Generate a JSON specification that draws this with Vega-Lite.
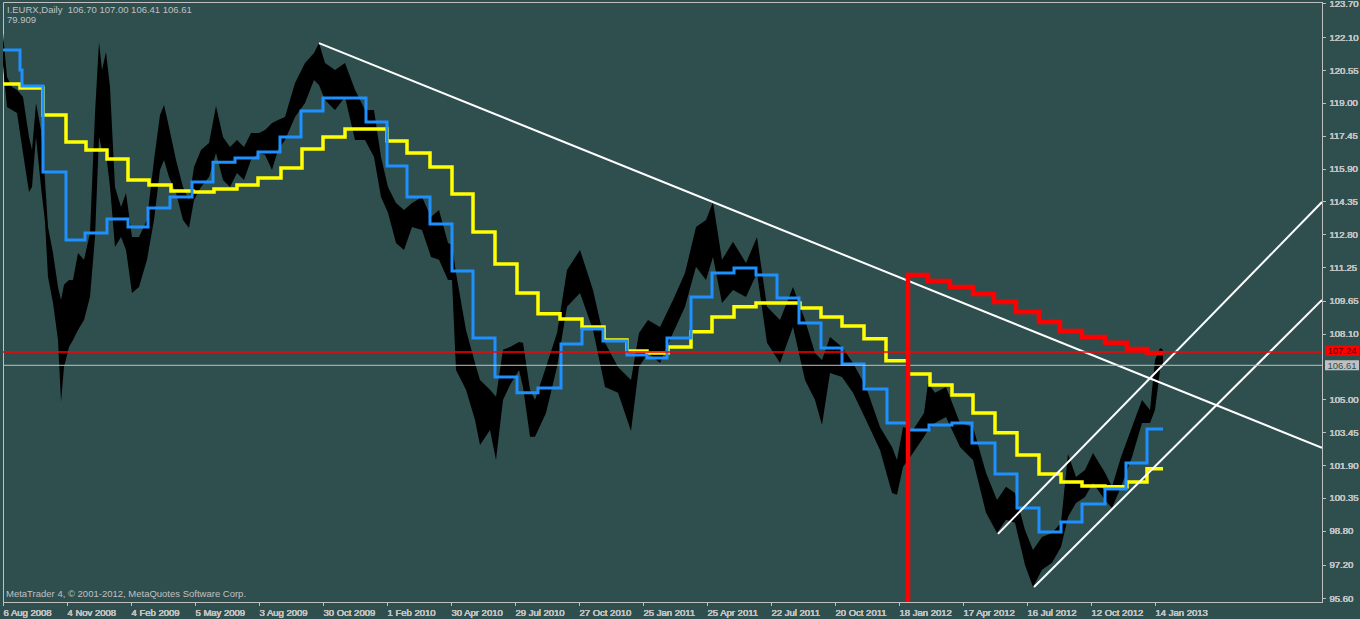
{
  "$schema": "https://vega.github.io/schema/vega-lite/v6.json",
  "width": 1319,
  "height": 600,
  "autosize": {"type": "none"},
  "padding": {"left": 3, "top": 2, "right": 38, "bottom": 17},
  "background": "#2F4F4F",
  "config": {
    "view": {"stroke": "#C0C0C0", "strokeWidth": 1, "fill": "#2F4F4F"},
    "font": "Liberation Sans",
    "axis": {"labelOverlap": false, "labelBound": false, "labelFlush": false, "grid": false, "domainColor": "#C0C0C0", "tickColor": "#C0C0C0", "tickSize": 3, "labelColor": "#C0C0C0", "labelFont": "Liberation Sans", "labelFontSize": 9.5, "labelSeparation": -50},
    "axisX": {"labelAlign": "left", "labelBaseline": "top", "labelPadding": 2, "labelDx": -1.5},
    "axisY": {"labelPadding": 4}
  },
  "data": {"values": [{}]},
  "datasets": {
    "price": [
      {"bar":0,"high":122.31,"low":120.80},{"bar":4,"high":120.23,"low":118.81},{"bar":9,"high":119.76,"low":118.67},{"bar":14,"high":119.62,"low":118.53},{"bar":20,"high":119.28,"low":116.64},{"bar":26,"high":117.39,"low":114.80},{"bar":29,"high":116.78,"low":115.03},{"bar":33,"high":119.00,"low":117.39},{"bar":38,"high":117.73,"low":115.03},{"bar":42,"high":115.36,"low":113.38},{"bar":45,"high":113.14,"low":110.78},{"bar":50,"high":111.92,"low":109.55},{"bar":55,"high":110.31,"low":107.81},{"bar":58,"high":109.70,"low":104.88},{"bar":61,"high":110.41,"low":106.53},{"bar":66,"high":110.64,"low":107.48},{"bar":70,"high":110.64,"low":107.81},{"bar":75,"high":111.92,"low":108.28},{"bar":81,"high":111.59,"low":108.75},{"bar":87,"high":112.86,"low":109.84},{"bar":92,"high":118.53,"low":112.67},{"bar":96,"high":121.88,"low":117.39},{"bar":99,"high":120.56,"low":116.78},{"bar":103,"high":121.41,"low":116.64},{"bar":107,"high":119.76,"low":115.03},{"bar":112,"high":115.03,"low":112.20},{"bar":118,"high":114.09,"low":112.67},{"bar":123,"high":114.75,"low":112.06},{"bar":129,"high":112.67,"low":110.03},{"bar":136,"high":112.67,"low":110.31},{"bar":144,"high":113.47,"low":111.59},{"bar":151,"high":116.31,"low":113.47},{"bar":157,"high":118.43,"low":115.84},{"bar":161,"high":118.91,"low":116.31},{"bar":166,"high":117.87,"low":115.51},{"bar":173,"high":116.31,"low":114.75},{"bar":180,"high":115.03,"low":113.47},{"bar":186,"high":114.42,"low":113.10},{"bar":191,"high":115.98,"low":114.42},{"bar":198,"high":116.78,"low":115.03},{"bar":206,"high":117.11,"low":115.51},{"bar":213,"high":118.86,"low":116.64},{"bar":220,"high":117.39,"low":115.36},{"bar":227,"high":116.92,"low":115.03},{"bar":234,"high":117.25,"low":115.69},{"bar":241,"high":116.92,"low":115.36},{"bar":248,"high":117.58,"low":116.31},{"bar":256,"high":117.58,"low":116.64},{"bar":262,"high":117.73,"low":116.55},{"bar":269,"high":118.06,"low":115.84},{"bar":275,"high":118.20,"low":116.78},{"bar":282,"high":118.34,"low":117.25},{"bar":292,"high":119.95,"low":118.34},{"bar":302,"high":120.89,"low":119.00},{"bar":311,"high":121.36,"low":120.09},{"bar":316,"high":121.83,"low":119.85},{"bar":322,"high":120.89,"low":119.14},{"bar":332,"high":120.56,"low":118.67},{"bar":342,"high":120.89,"low":119.28},{"bar":352,"high":119.62,"low":117.25},{"bar":362,"high":118.67,"low":117.25},{"bar":371,"high":118.67,"low":116.45},{"bar":378,"high":116.45,"low":114.56},{"bar":385,"high":115.03,"low":113.81},{"bar":393,"high":114.28,"low":112.39},{"bar":401,"high":113.95,"low":112.06},{"bar":409,"high":114.28,"low":113.14},{"bar":419,"high":114.56,"low":113.00},{"bar":428,"high":113.62,"low":111.73},{"bar":436,"high":113.95,"low":111.59},{"bar":445,"high":112.39,"low":110.64},{"bar":449,"high":112.30,"low":110.64},{"bar":453,"high":110.97,"low":106.39},{"bar":463,"high":108.28,"low":105.45},{"bar":472,"high":106.72,"low":104.03},{"bar":477,"high":105.92,"low":102.85},{"bar":487,"high":105.45,"low":103.56},{"bar":493,"high":105.12,"low":102.14},{"bar":500,"high":107.34,"low":104.97},{"bar":507,"high":107.48,"low":105.68},{"bar":516,"high":107.71,"low":106.39},{"bar":520,"high":107.67,"low":105.59},{"bar":527,"high":105.45,"low":103.23},{"bar":532,"high":104.97,"low":103.23},{"bar":543,"high":106.53,"low":104.36},{"bar":554,"high":108.14,"low":106.53},{"bar":564,"high":111.11,"low":109.37},{"bar":577,"high":112.06,"low":110.03},{"bar":590,"high":110.17,"low":108.28},{"bar":602,"high":107.67,"low":105.59},{"bar":615,"high":106.53,"low":105.31},{"bar":628,"high":105.92,"low":103.51},{"bar":636,"high":108.14,"low":106.53},{"bar":645,"high":108.75,"low":107.19},{"bar":657,"high":108.42,"low":106.72},{"bar":670,"high":109.70,"low":108.14},{"bar":682,"high":110.97,"low":109.37},{"bar":693,"high":113.14,"low":111.26},{"bar":703,"high":113.47,"low":110.64},{"bar":710,"high":114.32,"low":111.73},{"bar":719,"high":111.59,"low":109.55},{"bar":730,"high":112.44,"low":110.17},{"bar":743,"high":111.44,"low":109.84},{"bar":754,"high":112.67,"low":110.97},{"bar":764,"high":109.37,"low":107.67},{"bar":777,"high":108.75,"low":106.72},{"bar":790,"high":110.31,"low":108.42},{"bar":802,"high":108.75,"low":105.92},{"bar":812,"high":107.19,"low":104.97},{"bar":819,"high":106.86,"low":103.79},{"bar":827,"high":107.95,"low":106.25},{"bar":839,"high":107.48,"low":106.06},{"bar":850,"high":106.72,"low":105.31},{"bar":863,"high":105.59,"low":104.03},{"bar":877,"high":103.70,"low":102.61},{"bar":889,"high":102.75,"low":100.58},{"bar":894,"high":102.14,"low":100.49},{"bar":900,"high":103.70,"low":101.81},{"bar":910,"high":103.56,"low":102.47},{"bar":921,"high":104.36,"low":103.23},{"bar":925,"high":105.78,"low":103.56},{"bar":932,"high":105.31,"low":103.89},{"bar":943,"high":105.59,"low":104.17},{"bar":957,"high":103.89,"low":102.75},{"bar":970,"high":103.70,"low":102.14},{"bar":983,"high":101.53,"low":99.64},{"bar":994,"high":100.25,"low":98.69},{"bar":1003,"high":100.87,"low":99.31},{"bar":1012,"high":100.58,"low":99.17},{"bar":1022,"high":98.83,"low":97.18},{"bar":1030,"high":97.89,"low":96.14},{"bar":1039,"high":98.50,"low":96.95},{"bar":1049,"high":98.69,"low":97.28},{"bar":1058,"high":99.17,"low":98.03},{"bar":1065,"high":102.42,"low":99.45},{"bar":1073,"high":101.34,"low":100.11},{"bar":1082,"high":101.67,"low":100.39},{"bar":1090,"high":102.47,"low":101.05},{"bar":1102,"high":101.53,"low":100.25},{"bar":1109,"high":100.87,"low":99.87},{"bar":1118,"high":102.28,"low":100.87},{"bar":1129,"high":103.70,"low":102.28},{"bar":1139,"high":104.97,"low":103.89},{"bar":1147,"high":104.50,"low":103.89},{"bar":1152,"high":106.86,"low":104.50},{"bar":1157,"high":107.43,"low":106.39},{"bar":1160,"high":107.34,"low":106.62}
    ],
    "blue": [
      {"bar":0,"price":121.50},{"bar":17,"price":120.56},{"bar":19,"price":119.80},{"bar":40,"price":115.74},{"bar":63,"price":112.53},{"bar":82,"price":112.86},{"bar":104,"price":113.52},{"bar":125,"price":113.14},{"bar":145,"price":114.04},{"bar":167,"price":114.56},{"bar":189,"price":115.27},{"bar":210,"price":116.20},{"bar":232,"price":116.40},{"bar":255,"price":116.69},{"bar":277,"price":117.39},{"bar":298,"price":118.62},{"bar":320,"price":119.24},{"bar":363,"price":118.10},{"bar":384,"price":116.02},{"bar":404,"price":114.56},{"bar":427,"price":113.29},{"bar":449,"price":111.07},{"bar":470,"price":107.90},{"bar":492,"price":106.06},{"bar":514,"price":105.31},{"bar":535,"price":105.54},{"bar":558,"price":107.62},{"bar":579,"price":108.33},{"bar":600,"price":107.76},{"bar":624,"price":107.10},{"bar":644,"price":106.96},{"bar":664,"price":107.90},{"bar":688,"price":109.84},{"bar":709,"price":110.97},{"bar":731,"price":111.21},{"bar":753,"price":110.88},{"bar":774,"price":109.79},{"bar":796,"price":108.61},{"bar":818,"price":107.43},{"bar":839,"price":106.67},{"bar":861,"price":105.49},{"bar":884,"price":103.89},{"bar":905,"price":103.56},{"bar":926,"price":103.79},{"bar":949,"price":103.89},{"bar":969,"price":102.94},{"bar":992,"price":101.48},{"bar":1014,"price":99.87},{"bar":1036,"price":98.74},{"bar":1058,"price":99.21},{"bar":1079,"price":100.06},{"bar":1102,"price":100.77},{"bar":1123,"price":102.00},{"bar":1144,"price":103.60},{"bar":1160,"price":103.60}
    ],
    "yellow": [
      {"bar":0,"price":119.90},{"bar":17,"price":119.71},{"bar":40,"price":118.43},{"bar":63,"price":117.16},{"bar":83,"price":116.78},{"bar":104,"price":116.36},{"bar":125,"price":115.36},{"bar":146,"price":115.13},{"bar":168,"price":114.84},{"bar":190,"price":114.80},{"bar":211,"price":114.94},{"bar":234,"price":115.13},{"bar":255,"price":115.46},{"bar":278,"price":115.93},{"bar":299,"price":116.83},{"bar":320,"price":117.39},{"bar":342,"price":117.77},{"bar":384,"price":117.21},{"bar":404,"price":116.64},{"bar":427,"price":115.98},{"bar":449,"price":114.70},{"bar":470,"price":112.91},{"bar":492,"price":111.40},{"bar":514,"price":110.03},{"bar":535,"price":109.04},{"bar":557,"price":108.80},{"bar":579,"price":108.42},{"bar":601,"price":107.81},{"bar":624,"price":107.29},{"bar":644,"price":107.19},{"bar":665,"price":107.48},{"bar":688,"price":108.19},{"bar":709,"price":108.89},{"bar":731,"price":109.37},{"bar":753,"price":109.55},{"bar":797,"price":109.32},{"bar":818,"price":108.89},{"bar":839,"price":108.47},{"bar":861,"price":107.86},{"bar":883,"price":106.82},{"bar":905,"price":106.20},{"bar":927,"price":105.68},{"bar":949,"price":105.21},{"bar":970,"price":104.36},{"bar":992,"price":103.42},{"bar":1014,"price":102.37},{"bar":1036,"price":101.48},{"bar":1058,"price":101.10},{"bar":1079,"price":100.91},{"bar":1102,"price":100.87},{"bar":1124,"price":101.10},{"bar":1144,"price":101.72},{"bar":1160,"price":101.72}
    ],
    "red": [
      {"bar":905,"price":110.88},{"bar":925,"price":110.59},{"bar":947,"price":110.31},{"bar":970,"price":109.98},{"bar":991,"price":109.60},{"bar":1013,"price":109.13},{"bar":1036,"price":108.66},{"bar":1057,"price":108.23},{"bar":1079,"price":107.95},{"bar":1102,"price":107.67},{"bar":1124,"price":107.38},{"bar":1144,"price":107.19},{"bar":1160,"price":107.19}
    ],
    "trend": [
      {"line":"A","bar":316,"price":121.83},{"line":"A","bar":1319,"price":102.71},
      {"line":"B","bar":995,"price":98.65},{"line":"B","bar":1319,"price":114.32},
      {"line":"C","bar":1031,"price":96.14},{"line":"C","bar":1319,"price":109.70}
    ]
  },
  "layer": [
    {
      "data": {"name": "price"},
      "mark": {"type": "area", "color": "#000000", "clip": true},
      "encoding": {
        "x": {"field": "bar", "type": "quantitative", "title": null, "scale": {"domain": [0, 1319], "nice": false, "zero": false},
          "axis": {"orient": "bottom", "title": null, "labelOverlap": false, "values": [0,64,128,192,256,320,384,448,512,576,640,704,768,832,896,960,1024,1088,1152],
            "labelExpr": "['6 Aug 2008','4 Nov 2008','4 Feb 2009','5 May 2009','3 Aug 2009','30 Oct 2009','1 Feb 2010','30 Apr 2010','29 Jul 2010','27 Oct 2010','25 Jan 2011','25 Apr 2011','22 Jul 2011','20 Oct 2011','18 Jan 2012','17 Apr 2012','16 Jul 2012','12 Oct 2012','14 Jan 2013'][round(datum.value/64)]"}},
        "y": {"field": "high", "type": "quantitative", "title": null, "scale": {"domain": [95.43, 123.77], "nice": false, "zero": false},
          "axis": {"orient": "right", "title": null, "labelOverlap": false, "format": ".2f", "values": [95.6,97.2,98.8,100.35,101.9,103.45,105.0,108.1,109.65,111.25,112.8,114.35,115.9,117.45,119.0,120.55,122.1,123.7]}},
        "y2": {"field": "low"}
      }
    },
    {
      "data": {"name": "yellow"},
      "mark": {"type": "line", "color": "#FFFF00", "strokeWidth": 3.5, "interpolate": "step-after", "clip": true},
      "encoding": {
        "x": {"field": "bar", "type": "quantitative", "title": null, "scale": {"domain": [0, 1319], "nice": false, "zero": false},
          "axis": {"orient": "bottom", "title": null, "labelOverlap": false, "values": [0,64,128,192,256,320,384,448,512,576,640,704,768,832,896,960,1024,1088,1152],
            "labelExpr": "['6 Aug 2008','4 Nov 2008','4 Feb 2009','5 May 2009','3 Aug 2009','30 Oct 2009','1 Feb 2010','30 Apr 2010','29 Jul 2010','27 Oct 2010','25 Jan 2011','25 Apr 2011','22 Jul 2011','20 Oct 2011','18 Jan 2012','17 Apr 2012','16 Jul 2012','12 Oct 2012','14 Jan 2013'][round(datum.value/64)]"}},
        "y": {"field": "price", "type": "quantitative", "title": null, "scale": {"domain": [95.43, 123.77], "nice": false, "zero": false},
          "axis": {"orient": "right", "title": null, "labelOverlap": false, "format": ".2f", "values": [95.6,97.2,98.8,100.35,101.9,103.45,105.0,108.1,109.65,111.25,112.8,114.35,115.9,117.45,119.0,120.55,122.1,123.7]}}
      }
    },
    {
      "data": {"name": "blue"},
      "mark": {"type": "line", "color": "#1E90FF", "strokeWidth": 3, "interpolate": "step-after", "clip": true},
      "encoding": {
        "x": {"field": "bar", "type": "quantitative", "title": null, "scale": {"domain": [0, 1319], "nice": false, "zero": false},
          "axis": {"orient": "bottom", "title": null, "labelOverlap": false, "values": [0,64,128,192,256,320,384,448,512,576,640,704,768,832,896,960,1024,1088,1152],
            "labelExpr": "['6 Aug 2008','4 Nov 2008','4 Feb 2009','5 May 2009','3 Aug 2009','30 Oct 2009','1 Feb 2010','30 Apr 2010','29 Jul 2010','27 Oct 2010','25 Jan 2011','25 Apr 2011','22 Jul 2011','20 Oct 2011','18 Jan 2012','17 Apr 2012','16 Jul 2012','12 Oct 2012','14 Jan 2013'][round(datum.value/64)]"}},
        "y": {"field": "price", "type": "quantitative", "title": null, "scale": {"domain": [95.43, 123.77], "nice": false, "zero": false},
          "axis": {"orient": "right", "title": null, "labelOverlap": false, "format": ".2f", "values": [95.6,97.2,98.8,100.35,101.9,103.45,105.0,108.1,109.65,111.25,112.8,114.35,115.9,117.45,119.0,120.55,122.1,123.7]}}
      }
    },
    {
      "data": {"name": "red"},
      "mark": {"type": "line", "color": "#FF0000", "strokeWidth": 4.5, "interpolate": "step-after", "clip": true},
      "encoding": {
        "x": {"field": "bar", "type": "quantitative", "title": null, "scale": {"domain": [0, 1319], "nice": false, "zero": false},
          "axis": {"orient": "bottom", "title": null, "labelOverlap": false, "values": [0,64,128,192,256,320,384,448,512,576,640,704,768,832,896,960,1024,1088,1152],
            "labelExpr": "['6 Aug 2008','4 Nov 2008','4 Feb 2009','5 May 2009','3 Aug 2009','30 Oct 2009','1 Feb 2010','30 Apr 2010','29 Jul 2010','27 Oct 2010','25 Jan 2011','25 Apr 2011','22 Jul 2011','20 Oct 2011','18 Jan 2012','17 Apr 2012','16 Jul 2012','12 Oct 2012','14 Jan 2013'][round(datum.value/64)]"}},
        "y": {"field": "price", "type": "quantitative", "title": null, "scale": {"domain": [95.43, 123.77], "nice": false, "zero": false},
          "axis": {"orient": "right", "title": null, "labelOverlap": false, "format": ".2f", "values": [95.6,97.2,98.8,100.35,101.9,103.45,105.0,108.1,109.65,111.25,112.8,114.35,115.9,117.45,119.0,120.55,122.1,123.7]}}
      }
    },
    {
      "data": {"name": "trend"},
      "mark": {"type": "line", "color": "#FFFFFF", "strokeWidth": 2, "clip": true},
      "encoding": {
        "x": {"field": "bar", "type": "quantitative", "title": null, "scale": {"domain": [0, 1319], "nice": false, "zero": false},
          "axis": {"orient": "bottom", "title": null, "labelOverlap": false, "values": [0,64,128,192,256,320,384,448,512,576,640,704,768,832,896,960,1024,1088,1152],
            "labelExpr": "['6 Aug 2008','4 Nov 2008','4 Feb 2009','5 May 2009','3 Aug 2009','30 Oct 2009','1 Feb 2010','30 Apr 2010','29 Jul 2010','27 Oct 2010','25 Jan 2011','25 Apr 2011','22 Jul 2011','20 Oct 2011','18 Jan 2012','17 Apr 2012','16 Jul 2012','12 Oct 2012','14 Jan 2013'][round(datum.value/64)]"}},
        "y": {"field": "price", "type": "quantitative", "title": null, "scale": {"domain": [95.43, 123.77], "nice": false, "zero": false},
          "axis": {"orient": "right", "title": null, "labelOverlap": false, "format": ".2f", "values": [95.6,97.2,98.8,100.35,101.9,103.45,105.0,108.1,109.65,111.25,112.8,114.35,115.9,117.45,119.0,120.55,122.1,123.7]}},
        "detail": {"field": "line"}
      }
    },
    {
      "layer": [
        {
          "mark": {"type": "rule", "color": "#C0C0C0", "strokeWidth": 1},
          "encoding": {"y": {"datum": 106.61}}
        },
        {
          "mark": {"type": "rule", "color": "#FF0000", "strokeWidth": 1.5},
          "encoding": {"y": {"datum": 107.24}}
        },
        {
          "mark": {"type": "rule", "color": "#FF0000", "strokeWidth": 4.5, "clip": true},
          "encoding": {"x": {"datum": 905}, "y": {"datum": 110.98}, "y2": {"datum": 95.43}}
        },
        {
          "mark": {"type": "rect", "color": "#FF0000"},
          "encoding": {"x": {"datum": 1322}, "x2": {"datum": 1356}, "y": {"datum": 107.54}, "y2": {"datum": 107.05}}
        },
        {
          "mark": {"type": "text", "color": "#600000", "font": "Liberation Sans", "fontSize": 9.5, "align": "center", "baseline": "middle"},
          "encoding": {"x": {"datum": 1339}, "y": {"datum": 107.28}, "text": {"value": "107.24"}}
        },
        {
          "mark": {"type": "rect", "color": "#C0C0C0"},
          "encoding": {"x": {"datum": 1322}, "x2": {"datum": 1356}, "y": {"datum": 106.85}, "y2": {"datum": 106.38}}
        },
        {
          "mark": {"type": "text", "color": "#2F4F4F", "font": "Liberation Sans", "fontSize": 9.5, "align": "center", "baseline": "middle"},
          "encoding": {"x": {"datum": 1339}, "y": {"datum": 106.6}, "text": {"value": "106.61"}}
        },
        {
          "mark": {"type": "text", "color": "#C0C0C0", "font": "Liberation Sans", "fontSize": 9.5, "align": "left", "baseline": "middle"},
          "encoding": {"x": {"datum": 4}, "y": {"datum": 123.37}, "text": {"value": "I.EURX,Daily\u00a0\u00a0106.70 107.00 106.41 106.61"}}
        },
        {
          "mark": {"type": "text", "color": "#C0C0C0", "font": "Liberation Sans", "fontSize": 9.5, "align": "left", "baseline": "middle"},
          "encoding": {"x": {"datum": 4}, "y": {"datum": 122.9}, "text": {"value": "79.909"}}
        },
        {
          "mark": {"type": "text", "color": "#C0C0C0", "font": "Liberation Sans", "fontSize": 9.5, "align": "left", "baseline": "middle"},
          "encoding": {"x": {"datum": 3}, "y": {"datum": 95.79}, "text": {"value": "MetaTrader 4, © 2001-2012, MetaQuotes Software Corp."}}
        }
      ],
      "resolve": {"scale": {"x": "independent", "y": "independent"}, "axis": {"x": "independent", "y": "independent"}},
      "encoding": {
        "x": {"type": "quantitative", "scale": {"domain": [0, 1319], "nice": false, "zero": false}, "axis": null},
        "y": {"type": "quantitative", "scale": {"domain": [95.43, 123.77], "nice": false, "zero": false}, "axis": null}
      }
    }
  ]
}
